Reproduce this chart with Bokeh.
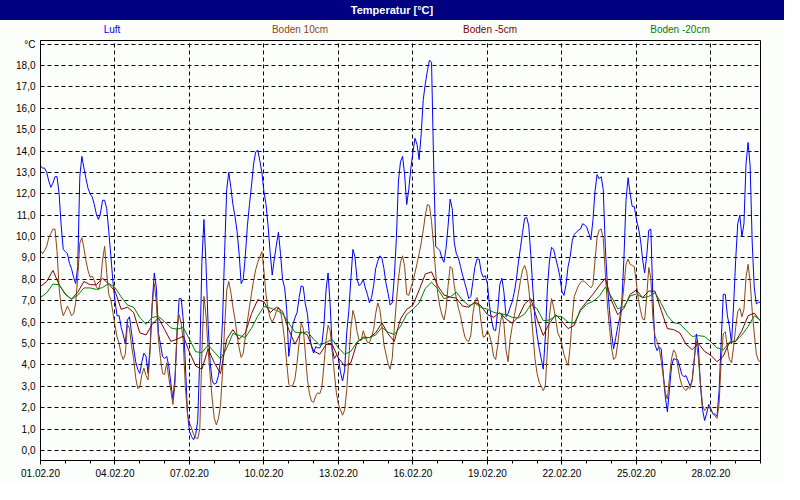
import numpy as np
from bokeh.plotting import figure
from bokeh.layouts import column
from bokeh.models import FixedTicker, Range1d, Div
from bokeh.embed import file_html
from bokeh.resources import INLINE

# ---------------- data ----------------
title_text = "Temperatur [°C]"
series_names = ["Luft", "Boden 10cm", "Boden -5cm", "Boden -20cm"]
series_colors = ["#0000FF", "#8B4513", "#800000", "#008000"]

# Luft, every 2 hours from 01.02.20 00:00
luft = [
    13.3, 13.2, 13.2, 13.0, 12.6, 12.3, 12.5, 12.8, 12.8, 12.0,
    10.5, 9.4, 9.3, 9.2, 8.75, 8.5, 8.1, 7.8, 8.6, 12.8,
    13.75, 13.2, 12.7, 12.25, 12.0, 11.85, 11.5, 11.05, 10.8, 11.1,
    11.7, 11.7, 11.3, 10.25, 9.1, 7.9, 7.0, 6.3, 6.3, 5.75,
    5.4, 5.0, 6.1, 6.25, 5.5, 4.8, 4.15, 3.8, 3.6, 4.15,
    4.55, 4.4, 3.6, 4.9, 6.9, 8.3, 7.6, 5.5, 4.95, 4.4,
    4.3, 4.4, 3.95, 3.15, 2.4, 3.4, 5.4, 7.1, 7.1, 6.1,
    4.1, 1.8, 0.9, 0.65, 0.5, 0.75, 1.4, 4.4, 8.8, 10.8,
    8.7, 5.9, 4.1, 3.25, 3.1, 3.15, 3.5, 4.2, 6.1, 9.3,
    12.2, 13.0, 12.3, 11.5, 10.95, 10.25, 9.2, 7.8, 8.0, 9.1,
    10.5, 11.5, 12.4, 13.4, 13.95, 14.05, 13.55, 13.0, 12.1, 11.5,
    10.5, 9.25, 8.2, 8.95, 9.6, 10.2, 9.2, 8.0, 7.6, 6.6,
    4.4, 5.25, 5.9, 6.2, 6.45, 7.15, 7.7, 7.65, 6.85, 6.4,
    5.4, 4.85, 4.55, 4.85, 4.8, 4.8, 4.97, 5.85, 7.5, 8.3,
    6.8, 4.8, 4.3, 4.45, 4.35, 3.65, 3.25, 3.75, 5.5, 6.5,
    8.0, 9.4, 9.05, 8.0, 7.7, 7.8, 8.0, 7.6, 7.3, 6.9,
    7.15, 7.7, 8.5, 8.85, 9.1, 9.0, 8.5, 7.8, 7.35, 6.8,
    6.9, 8.1, 9.9, 12.6, 13.5, 13.75, 12.9, 11.5, 12.2, 13.2,
    13.95, 14.6, 14.3, 13.6, 14.8, 16.4, 17.15, 17.75, 18.25, 18.15,
    13.5, 9.55, 9.45, 9.35, 9.0, 8.8, 9.45, 10.5, 11.75, 11.3,
    9.7, 9.2, 9.0, 8.6, 8.2, 7.85, 7.5, 7.1, 7.2, 7.9,
    8.6, 8.95, 8.95, 8.35, 8.1, 8.17, 7.8, 6.8, 6.1, 5.65,
    5.6, 6.55, 7.75, 8.05, 7.4, 6.25, 6.4, 6.7, 6.95, 7.4,
    8.0, 8.8, 9.5, 10.2, 10.85, 10.9, 10.5, 9.1, 7.5, 6.15,
    5.4, 4.8, 4.3, 3.8, 5.3, 7.6, 8.85, 9.5, 9.4, 9.0,
    8.6, 8.15, 7.45, 7.25, 7.75, 8.6, 9.05, 9.8, 10.1, 10.2,
    10.3, 10.35, 10.6, 10.55, 10.45, 10.15, 9.85, 10.75, 12.1, 12.9,
    12.7, 12.8, 12.2, 9.5, 7.75, 6.55, 5.5, 4.75, 5.25, 5.8,
    6.2, 7.0, 9.0, 11.7, 12.75, 12.0, 11.4, 11.4, 10.8, 10.4,
    9.85, 8.95, 8.3, 9.1, 10.3, 10.35, 7.1, 4.95, 4.67, 4.85,
    4.75, 3.6, 2.5, 1.8, 2.85, 3.95, 4.3, 4.25, 4.25, 3.9,
    3.55, 3.45, 3.5, 3.25, 3.0, 3.3, 4.25, 5.45, 4.8, 3.0,
    1.9, 1.4, 1.75, 2.15, 1.95, 1.71, 1.7, 1.6, 2.8, 5.1,
    7.3, 7.3, 6.3, 5.8, 5.0, 6.8, 8.9, 10.6, 11.0, 10.0,
    10.6, 13.4, 14.4, 13.3, 9.7, 7.6, 6.85, 6.93, 6.93,
]

# Boden 10cm, every 2 hours
boden10 = [
    9.35, 9.2, 9.35, 9.55, 9.95, 10.15, 10.35, 10.35, 9.3, 7.6,
    6.7, 6.3, 6.5, 6.75, 6.55, 6.3, 6.4, 6.9, 8.1, 9.7,
    9.95, 9.45, 8.85, 8.4, 8.1, 8.15, 7.95, 7.65, 7.5, 7.85,
    8.9, 9.55, 8.3, 7.3, 7.05, 6.45, 5.85, 5.3, 5.0, 4.5,
    4.25, 4.5, 5.9, 5.7, 4.9, 4.3, 3.4, 2.9, 2.95, 3.55,
    3.85, 3.5, 3.3, 4.7, 6.8, 7.8, 6.9, 5.2, 4.3, 3.6,
    3.55, 4.1, 3.4, 2.8, 2.15, 3.1, 5.7, 6.35, 5.95, 5.1,
    3.0, 1.75, 1.3, 1.05, 0.75, 0.6, 0.55, 1.0, 4.6, 7.2,
    6.3, 4.75, 3.5, 2.4, 1.5, 1.2, 1.5, 2.1, 3.7, 5.8,
    7.5, 7.9, 7.4, 6.7, 6.15, 5.4, 4.8, 4.35, 4.55, 5.3,
    6.05, 6.7, 7.35, 7.95, 8.45, 8.8, 9.05, 9.3, 8.4, 7.3,
    6.6, 6.2, 6.0, 6.2, 6.5, 6.7, 6.5, 5.95, 5.15, 4.1,
    3.1, 3.0, 3.05, 3.35, 4.1, 5.05, 5.95, 5.7, 4.55, 3.35,
    2.65, 2.3, 2.25, 2.55, 2.7, 2.65, 2.95, 4.0, 5.15, 5.85,
    5.6, 4.6, 3.65, 2.7, 2.15, 1.9, 1.65, 1.9, 2.8, 4.3,
    5.7, 6.55, 6.2, 5.55, 5.15, 5.15, 5.6, 5.3, 5.05, 5.05,
    5.3, 5.65, 6.4, 6.9, 6.6, 5.85, 4.95, 4.5, 4.05, 3.8,
    4.3, 5.7, 6.95, 8.0, 8.8, 9.1, 8.6, 7.3, 7.25, 7.6,
    7.9, 8.3, 8.75, 9.2, 9.7, 10.3, 11.0, 11.5, 11.45, 10.7,
    9.6, 8.3, 7.35, 6.75, 6.35, 6.1, 6.6, 7.7, 8.6, 8.5,
    7.7, 7.1, 6.65, 6.3, 5.8, 5.35, 5.14, 5.1, 5.4, 6.4,
    7.0, 7.15, 6.8, 5.95, 5.3, 5.35, 5.6, 5.4, 5.0, 4.4,
    4.25, 4.95, 5.75, 6.4, 5.9, 4.7, 4.15, 5.2, 5.8, 6.3,
    6.8, 7.35, 7.95, 8.45, 8.65, 8.35, 7.55, 6.6, 5.45, 4.3,
    3.6, 3.2, 3.0, 2.8, 3.0, 4.7, 6.3, 7.1, 6.7, 6.15,
    5.5, 5.3, 4.95, 4.5, 4.2, 3.97, 4.85, 6.2, 7.2, 7.46,
    7.7, 7.85, 7.93, 7.9, 7.8, 7.7, 7.6, 7.75, 8.85, 9.95,
    10.3, 10.36, 9.9, 8.3, 6.8, 5.75, 4.8, 4.25, 4.35, 5.0,
    5.8, 6.75, 7.7, 8.7, 8.95, 8.7, 8.65, 8.6, 7.85, 7.05,
    6.55, 6.15, 6.1, 7.2, 8.55, 8.05, 6.2, 5.35, 5.1, 4.8,
    4.2, 3.45, 2.7, 2.4, 3.4, 4.3, 4.7, 4.55, 3.95, 3.4,
    3.05, 2.9, 2.8, 2.95, 2.9, 3.3, 4.3, 5.1, 4.3, 3.1,
    2.1, 1.87, 1.98, 2.05, 1.9, 1.72, 1.62, 1.5, 2.2, 4.2,
    5.45, 5.55, 4.8, 4.25, 4.1, 4.85, 5.75, 6.5, 6.65, 6.25,
    6.6, 8.1, 8.7, 7.9, 6.5, 5.45, 4.5, 4.2, 4.15,
]

# Boden -5cm, every 6 hours
boden5 = [
    7.67, 7.9, 8.42, 7.75, 7.3, 7.08, 7.4, 7.9, 7.75, 7.75,
    8.05, 7.78, 7.45, 6.6, 6.7, 6.45, 5.5, 5.4, 5.9, 6.2,
    5.65, 5.1, 5.2, 5.35, 4.6, 3.95, 3.8, 4.75, 4.1, 3.6,
    5.2, 5.65, 5.2, 5.5, 6.4, 7.05, 6.95, 6.45, 6.7, 6.5,
    5.65, 4.97, 5.55, 5.4, 4.65, 4.5, 4.95, 4.95, 4.32, 3.95,
    4.1, 5.05, 5.3, 5.28, 5.5, 5.97, 5.45, 5.1, 6.15, 6.6,
    6.8, 7.5, 8.25, 8.35, 7.7, 7.27, 7.17, 7.12, 6.75, 6.7,
    6.95, 6.75, 6.35, 6.23, 6.45, 6.15, 5.95, 6.25, 6.85, 7.1,
    6.15, 5.38, 5.95, 6.35, 6.05, 5.7, 5.85, 6.6, 6.95, 7.3,
    7.7, 8.05, 7.0, 6.35, 6.65, 7.3, 7.5, 7.15, 7.45, 7.45,
    6.55, 5.7, 5.65, 5.5, 4.97, 4.72, 5.0, 4.63, 4.45, 4.15,
    4.4, 5.06, 5.1, 5.6, 6.3, 6.42, 6.05,
]

# Boden -20cm, every 6 hours
boden20 = [
    7.15, 7.37, 7.78, 7.75, 7.32, 7.07, 7.26, 7.6, 7.6, 7.53,
    7.62, 7.81, 7.62, 7.18, 6.8, 6.7, 6.22, 5.9, 6.22, 6.27,
    6.02, 5.73, 5.67, 5.75, 5.2, 4.62, 4.57, 4.93, 4.6, 4.28,
    4.78, 5.47, 5.38, 5.28, 5.72, 6.28, 6.73, 6.66, 6.55, 6.4,
    5.95, 5.53, 5.5, 5.55, 5.2, 4.93, 5.05, 5.19, 4.8, 4.5,
    4.63, 5.07, 5.24, 5.28, 5.4, 5.75, 5.53, 5.42, 5.8, 6.36,
    6.6, 6.9, 7.58, 7.87, 7.55, 7.1, 7.18, 7.4, 7.03, 6.77,
    6.89, 6.68, 6.61, 6.46, 6.39, 6.36, 6.22, 6.2, 6.38, 6.82,
    6.63, 6.07, 6.1, 6.29, 6.25, 6.0, 5.95, 6.53, 6.84, 6.97,
    7.2, 7.64, 7.18, 6.62, 6.72, 7.22, 7.32, 7.14, 7.2, 7.38,
    6.88, 6.3, 5.97, 5.92, 5.62, 5.33, 5.37, 5.33, 5.08, 4.8,
    4.7, 5.06, 5.12, 5.4, 5.8, 6.3, 6.08,
]

tick_labels = ["01.02.20", "04.02.20", "07.02.20", "10.02.20", "13.02.20",
               "16.02.20", "19.02.20", "22.02.20", "25.02.20", "28.02.20"]
y_labels = ["0,0", "1,0", "2,0", "3,0", "4,0", "5,0", "6,0", "7,0", "8,0", "9,0",
            "10,0", "11,0", "12,0", "13,0", "14,0", "15,0", "16,0", "17,0", "18,0", "°C"]

# ---------------- layout constants ----------------
W = 784
HEAD_H = 37                       # header strip: title bar + series names
BL, BR, BT, BB = 40, 24, 3, 24    # borders of the main plot
FW, FH = 720, 420                 # plot frame
BG = "#FCFEFC"
NAVY = "#000080"
FONT = "'Liberation Sans', Arial, sans-serif"

# ---------------- header (HTML strip: title bar + coloured series names) ----------------
legend_cx = [112, 300, 490, 680]
spans = "".join(
    f'<span style="position:absolute;left:{cx}px;top:30px;transform:translate(-50%,-50%);'
    f'color:{col};font-size:10px;white-space:nowrap;line-height:12px;">{name}</span>'
    for name, col, cx in zip(series_names, series_colors, legend_cx)
)
head_html = (
    f'<div style="position:relative;width:{W}px;height:{HEAD_H}px;background:{BG};'
    f'font-family:{FONT};margin:0;padding:0;">'
    f'<div style="position:absolute;left:0;top:0;width:{W}px;height:20px;background:{NAVY};'
    f'color:white;font-weight:bold;font-size:11px;line-height:20px;text-align:center;">'
    f'{title_text}</div>{spans}</div>'
)
head = Div(text=head_html, width=W, height=HEAD_H, margin=(0, 0, 0, 0))

# ---------------- main plot ----------------
n_days = 29
t2 = np.arange(len(luft)) * (2.0 / 24.0)
t6 = np.arange(len(boden5)) * (6.0 / 24.0)
tick_pos = [3 * i for i in range(len(tick_labels))]
y_pos = list(range(len(y_labels)))

p = figure(width=W, height=BT + FH + BB, output_backend="svg", toolbar_location=None,
           x_range=Range1d(0, n_days), y_range=Range1d(-0.468, 19.167),
           min_border_left=BL, min_border_right=BR, min_border_top=BT, min_border_bottom=BB,
           background_fill_color=BG, border_fill_color=BG, margin=(0, 0, 0, 0))

p.outline_line_color = "black"
p.outline_line_width = 1

p.xgrid.ticker = FixedTicker(ticks=tick_pos[1:])
p.ygrid.ticker = FixedTicker(ticks=y_pos)
for g in (p.xgrid, p.ygrid):
    g.grid_line_color = "black"
    g.grid_line_dash = "4 3"
    g.grid_line_width = 1

AX_FONT = "Liberation Sans"
xa = p.xaxis[0]
xa.ticker = FixedTicker(ticks=tick_pos, minor_ticks=list(range(0, n_days + 1)))
xa.major_label_overrides = {tp: lab for tp, lab in zip(tick_pos, tick_labels)}
xa.major_tick_in = 0
xa.major_tick_out = 4
xa.minor_tick_in = 0
xa.minor_tick_out = 3
xa.major_label_standoff = 4
xa.axis_line_color = "black"
xa.major_tick_line_color = "black"
xa.minor_tick_line_color = "black"
xa.major_label_text_font = AX_FONT
xa.major_label_text_font_size = "10px"
xa.major_label_text_color = "black"

ya = p.yaxis[0]
ya.ticker = FixedTicker(ticks=y_pos)
ya.major_label_overrides = {yp: lab for yp, lab in zip(y_pos, y_labels)}
ya.major_tick_in = 0
ya.major_tick_out = 0
ya.minor_tick_in = 0
ya.minor_tick_out = 0
ya.major_label_standoff = 5
ya.axis_line_color = "black"
ya.major_label_text_font = AX_FONT
ya.major_label_text_font_size = "10px"
ya.major_label_text_color = "black"

p.line(t2, luft, line_color=series_colors[0], line_width=1)
p.line(t2, boden10, line_color=series_colors[1], line_width=1)
p.line(t6, boden5, line_color=series_colors[2], line_width=1)
p.line(t6, boden20, line_color=series_colors[3], line_width=1)

layout = column(head, p, spacing=0)
open("out.html", "w").write(file_html(layout, INLINE))
